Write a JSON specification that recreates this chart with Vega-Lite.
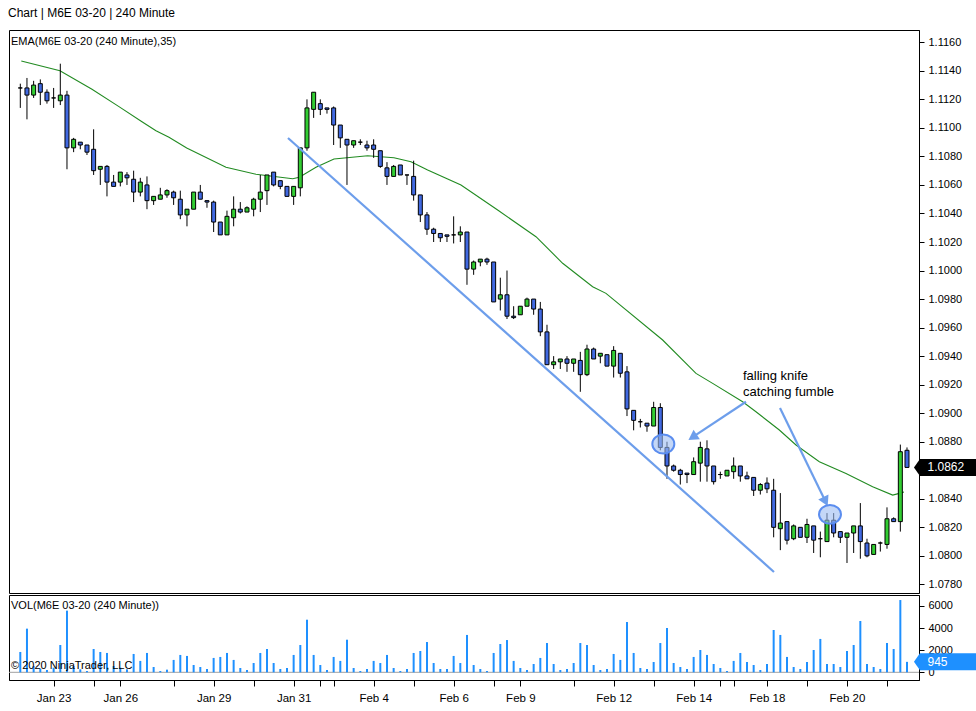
{
  "$schema": "https://vega.github.io/schema/vega-lite/v6.json",
  "background": "white",
  "padding": {"left": 8, "top": 6, "right": 0, "bottom": 0},
  "spacing": 0,
  "title": {"text": "Chart  |  M6E 03-20  |  240 Minute", "anchor": "start", "fontSize": 12, "fontWeight": "normal", "color": "#000", "offset": 10},
  "config": {
    "font": "Liberation Sans",
    "view": {"stroke": "#000", "strokeWidth": 1},
    "scale": {"continuousPadding": 0},
    "axis": {"grid": false, "domainColor": "#000", "tickColor": "#000", "labelColor": "#000", "labelFont": "Liberation Sans", "labelFontSize": 11, "title": null}
  },
  "datasets": {
    "bars": [
      {"i":0,"o":1.1128,"h":1.1131,"l":1.1114,"c":1.1128,"v":1840},
      {"i":1,"o":1.1128,"h":1.1135,"l":1.1106,"c":1.1123,"v":3950},
      {"i":2,"o":1.1123,"h":1.1133,"l":1.1121,"c":1.1130,"v":570},
      {"i":3,"o":1.1131,"h":1.1134,"l":1.1116,"c":1.1125,"v":330},
      {"i":4,"o":1.1125,"h":1.1127,"l":1.1117,"c":1.1119,"v":210},
      {"i":5,"o":1.1121,"h":1.1128,"l":1.1114,"c":1.1121,"v":420},
      {"i":6,"o":1.1119,"h":1.1145,"l":1.1116,"c":1.1123,"v":2470},
      {"i":7,"o":1.1123,"h":1.1126,"l":1.1071,"c":1.1086,"v":5580},
      {"i":8,"o":1.1086,"h":1.1093,"l":1.1083,"c":1.1092,"v":570},
      {"i":9,"o":1.1090,"h":1.1090,"l":1.1085,"c":1.1088,"v":270},
      {"i":10,"o":1.1088,"h":1.1088,"l":1.1081,"c":1.1083,"v":120},
      {"i":11,"o":1.1085,"h":1.1099,"l":1.1067,"c":1.1070,"v":2110},
      {"i":12,"o":1.1071,"h":1.1073,"l":1.1060,"c":1.1073,"v":1840},
      {"i":13,"o":1.1073,"h":1.1074,"l":1.1052,"c":1.1062,"v":1750},
      {"i":14,"o":1.1062,"h":1.1067,"l":1.1059,"c":1.1059,"v":570},
      {"i":15,"o":1.1062,"h":1.1069,"l":1.1059,"c":1.1069,"v":420},
      {"i":16,"o":1.1067,"h":1.1069,"l":1.1060,"c":1.1065,"v":270},
      {"i":17,"o":1.1064,"h":1.1070,"l":1.1048,"c":1.1055,"v":1660},
      {"i":18,"o":1.1055,"h":1.1065,"l":1.1052,"c":1.1062,"v":1030},
      {"i":19,"o":1.1060,"h":1.1066,"l":1.1043,"c":1.1049,"v":1750},
      {"i":20,"o":1.1049,"h":1.1052,"l":1.1046,"c":1.1052,"v":480},
      {"i":21,"o":1.1050,"h":1.1058,"l":1.1050,"c":1.1053,"v":120},
      {"i":22,"o":1.1053,"h":1.1057,"l":1.1051,"c":1.1056,"v":240},
      {"i":23,"o":1.1055,"h":1.1056,"l":1.1046,"c":1.1051,"v":1120},
      {"i":24,"o":1.1050,"h":1.1056,"l":1.1036,"c":1.1039,"v":1570},
      {"i":25,"o":1.1039,"h":1.1043,"l":1.1031,"c":1.1043,"v":1480},
      {"i":26,"o":1.1043,"h":1.1055,"l":1.1043,"c":1.1055,"v":660},
      {"i":27,"o":1.1055,"h":1.1060,"l":1.1050,"c":1.1050,"v":480},
      {"i":28,"o":1.1049,"h":1.1049,"l":1.1044,"c":1.1048,"v":300},
      {"i":29,"o":1.1048,"h":1.1049,"l":1.1027,"c":1.1034,"v":1300},
      {"i":30,"o":1.1034,"h":1.1034,"l":1.1025,"c":1.1025,"v":1390},
      {"i":31,"o":1.1025,"h":1.1042,"l":1.1025,"c":1.1038,"v":1750},
      {"i":32,"o":1.1037,"h":1.1052,"l":1.1031,"c":1.1043,"v":1120},
      {"i":33,"o":1.1043,"h":1.1048,"l":1.1040,"c":1.1041,"v":390},
      {"i":34,"o":1.1041,"h":1.1045,"l":1.1041,"c":1.1044,"v":210},
      {"i":35,"o":1.1043,"h":1.1051,"l":1.1038,"c":1.1050,"v":840},
      {"i":36,"o":1.1050,"h":1.1067,"l":1.1041,"c":1.1055,"v":1750},
      {"i":37,"o":1.1056,"h":1.1067,"l":1.1046,"c":1.1067,"v":2110},
      {"i":38,"o":1.1069,"h":1.1069,"l":1.1059,"c":1.1060,"v":840},
      {"i":39,"o":1.1063,"h":1.1063,"l":1.1057,"c":1.1059,"v":300},
      {"i":40,"o":1.1059,"h":1.1059,"l":1.1052,"c":1.1052,"v":390},
      {"i":41,"o":1.1052,"h":1.1059,"l":1.1046,"c":1.1059,"v":1570},
      {"i":42,"o":1.1058,"h":1.1086,"l":1.1052,"c":1.1086,"v":2470},
      {"i":43,"o":1.1086,"h":1.1120,"l":1.1084,"c":1.1114,"v":4760},
      {"i":44,"o":1.1113,"h":1.1125,"l":1.1107,"c":1.1125,"v":1570},
      {"i":45,"o":1.1117,"h":1.1120,"l":1.1109,"c":1.1113,"v":660},
      {"i":46,"o":1.1114,"h":1.1114,"l":1.1110,"c":1.1113,"v":210},
      {"i":47,"o":1.1114,"h":1.1115,"l":1.1088,"c":1.1102,"v":1390},
      {"i":48,"o":1.1102,"h":1.1102,"l":1.1086,"c":1.1093,"v":1030},
      {"i":49,"o":1.1092,"h":1.1092,"l":1.1060,"c":1.1088,"v":2950},
      {"i":50,"o":1.1088,"h":1.1091,"l":1.1086,"c":1.1091,"v":390},
      {"i":51,"o":1.1090,"h":1.1092,"l":1.1088,"c":1.1090,"v":120},
      {"i":52,"o":1.1088,"h":1.1091,"l":1.1084,"c":1.1086,"v":300},
      {"i":53,"o":1.1088,"h":1.1092,"l":1.1079,"c":1.1085,"v":1030},
      {"i":54,"o":1.1084,"h":1.1084,"l":1.1072,"c":1.1073,"v":840},
      {"i":55,"o":1.1072,"h":1.1076,"l":1.1060,"c":1.1066,"v":1570},
      {"i":56,"o":1.1066,"h":1.1074,"l":1.1066,"c":1.1073,"v":390},
      {"i":57,"o":1.1074,"h":1.1074,"l":1.1067,"c":1.1067,"v":120},
      {"i":58,"o":1.1067,"h":1.1067,"l":1.1060,"c":1.1067,"v":300},
      {"i":59,"o":1.1066,"h":1.1077,"l":1.1049,"c":1.1053,"v":1750},
      {"i":60,"o":1.1053,"h":1.1053,"l":1.1034,"c":1.1039,"v":1930},
      {"i":61,"o":1.1039,"h":1.1041,"l":1.1025,"c":1.1029,"v":2740},
      {"i":62,"o":1.1029,"h":1.1030,"l":1.1020,"c":1.1026,"v":840},
      {"i":63,"o":1.1026,"h":1.1026,"l":1.1020,"c":1.1023,"v":300},
      {"i":64,"o":1.1025,"h":1.1025,"l":1.1020,"c":1.1024,"v":300},
      {"i":65,"o":1.1025,"h":1.1038,"l":1.1019,"c":1.1025,"v":1480},
      {"i":66,"o":1.1025,"h":1.1031,"l":1.1020,"c":1.1027,"v":840},
      {"i":67,"o":1.1027,"h":1.1027,"l":1.0990,"c":1.1001,"v":3380},
      {"i":68,"o":1.1001,"h":1.1007,"l":1.0997,"c":1.1006,"v":660},
      {"i":69,"o":1.1006,"h":1.1008,"l":1.1003,"c":1.1008,"v":300},
      {"i":70,"o":1.1008,"h":1.1009,"l":1.1004,"c":1.1006,"v":120},
      {"i":71,"o":1.1006,"h":1.1006,"l":1.0978,"c":1.0978,"v":1750},
      {"i":72,"o":1.0980,"h":1.0995,"l":1.0972,"c":1.0983,"v":2560},
      {"i":73,"o":1.0983,"h":1.1000,"l":1.0966,"c":1.0968,"v":2920},
      {"i":74,"o":1.0968,"h":1.0975,"l":1.0966,"c":1.0967,"v":1030},
      {"i":75,"o":1.0969,"h":1.0975,"l":1.0969,"c":1.0975,"v":390},
      {"i":76,"o":1.0975,"h":1.0981,"l":1.0975,"c":1.0980,"v":210},
      {"i":77,"o":1.0980,"h":1.0980,"l":1.0969,"c":1.0973,"v":750},
      {"i":78,"o":1.0973,"h":1.0978,"l":1.0954,"c":1.0957,"v":1300},
      {"i":79,"o":1.0957,"h":1.0962,"l":1.0934,"c":1.0934,"v":2650},
      {"i":80,"o":1.0934,"h":1.0940,"l":1.0931,"c":1.0936,"v":750},
      {"i":81,"o":1.0936,"h":1.0938,"l":1.0931,"c":1.0938,"v":210},
      {"i":82,"o":1.0938,"h":1.0940,"l":1.0929,"c":1.0935,"v":300},
      {"i":83,"o":1.0935,"h":1.0938,"l":1.0929,"c":1.0938,"v":840},
      {"i":84,"o":1.0937,"h":1.0943,"l":1.0915,"c":1.0927,"v":2650},
      {"i":85,"o":1.0927,"h":1.0948,"l":1.0926,"c":1.0945,"v":2470},
      {"i":86,"o":1.0945,"h":1.0946,"l":1.0938,"c":1.0938,"v":660},
      {"i":87,"o":1.0940,"h":1.0942,"l":1.0935,"c":1.0942,"v":210},
      {"i":88,"o":1.0941,"h":1.0941,"l":1.0933,"c":1.0933,"v":300},
      {"i":89,"o":1.0933,"h":1.0947,"l":1.0925,"c":1.0944,"v":1660},
      {"i":90,"o":1.0942,"h":1.0942,"l":1.0925,"c":1.0928,"v":1120},
      {"i":91,"o":1.0929,"h":1.0933,"l":1.0898,"c":1.0903,"v":4550},
      {"i":92,"o":1.0902,"h":1.0902,"l":1.0888,"c":1.0895,"v":1750},
      {"i":93,"o":1.0894,"h":1.0896,"l":1.0890,"c":1.0894,"v":390},
      {"i":94,"o":1.0893,"h":1.0893,"l":1.0887,"c":1.0891,"v":300},
      {"i":95,"o":1.0891,"h":1.0908,"l":1.0891,"c":1.0904,"v":930},
      {"i":96,"o":1.0904,"h":1.0907,"l":1.0874,"c":1.0876,"v":2650},
      {"i":97,"o":1.0876,"h":1.0880,"l":1.0854,"c":1.0863,"v":4010},
      {"i":98,"o":1.0863,"h":1.0864,"l":1.0859,"c":1.0860,"v":840},
      {"i":99,"o":1.0860,"h":1.0861,"l":1.0850,"c":1.0857,"v":480},
      {"i":100,"o":1.0858,"h":1.0858,"l":1.0851,"c":1.0857,"v":300},
      {"i":101,"o":1.0857,"h":1.0869,"l":1.0857,"c":1.0866,"v":1390},
      {"i":102,"o":1.0865,"h":1.0880,"l":1.0852,"c":1.0876,"v":2020},
      {"i":103,"o":1.0875,"h":1.0881,"l":1.0852,"c":1.0863,"v":1570},
      {"i":104,"o":1.0863,"h":1.0863,"l":1.0850,"c":1.0852,"v":750},
      {"i":105,"o":1.0857,"h":1.0859,"l":1.0854,"c":1.0857,"v":390},
      {"i":106,"o":1.0856,"h":1.0860,"l":1.0856,"c":1.0860,"v":120},
      {"i":107,"o":1.0859,"h":1.0869,"l":1.0854,"c":1.0863,"v":1030},
      {"i":108,"o":1.0863,"h":1.0863,"l":1.0852,"c":1.0856,"v":1750},
      {"i":109,"o":1.0856,"h":1.0859,"l":1.0854,"c":1.0854,"v":930},
      {"i":110,"o":1.0855,"h":1.0855,"l":1.0842,"c":1.0846,"v":660},
      {"i":111,"o":1.0846,"h":1.0851,"l":1.0843,"c":1.0850,"v":210},
      {"i":112,"o":1.0851,"h":1.0855,"l":1.0844,"c":1.0847,"v":750},
      {"i":113,"o":1.0846,"h":1.0854,"l":1.0813,"c":1.0820,"v":3830},
      {"i":114,"o":1.0819,"h":1.0844,"l":1.0804,"c":1.0823,"v":3380},
      {"i":115,"o":1.0824,"h":1.0824,"l":1.0808,"c":1.0811,"v":1390},
      {"i":116,"o":1.0812,"h":1.0822,"l":1.0811,"c":1.0821,"v":480},
      {"i":117,"o":1.0820,"h":1.0820,"l":1.0813,"c":1.0813,"v":300},
      {"i":118,"o":1.0813,"h":1.0826,"l":1.0809,"c":1.0822,"v":930},
      {"i":119,"o":1.0821,"h":1.0821,"l":1.0802,"c":1.0811,"v":2020},
      {"i":120,"o":1.0812,"h":1.0817,"l":1.0799,"c":1.0812,"v":3020},
      {"i":121,"o":1.0810,"h":1.0830,"l":1.0810,"c":1.0825,"v":750},
      {"i":122,"o":1.0825,"h":1.0830,"l":1.0813,"c":1.0816,"v":750},
      {"i":123,"o":1.0817,"h":1.0817,"l":1.0809,"c":1.0813,"v":480},
      {"i":124,"o":1.0813,"h":1.0816,"l":1.0795,"c":1.0816,"v":1930},
      {"i":125,"o":1.0816,"h":1.0821,"l":1.0802,"c":1.0821,"v":2470},
      {"i":126,"o":1.0821,"h":1.0837,"l":1.0798,"c":1.0810,"v":4640},
      {"i":127,"o":1.0809,"h":1.0812,"l":1.0799,"c":1.0800,"v":750},
      {"i":128,"o":1.0801,"h":1.0808,"l":1.0801,"c":1.0808,"v":480},
      {"i":129,"o":1.0809,"h":1.0810,"l":1.0803,"c":1.0809,"v":300},
      {"i":130,"o":1.0808,"h":1.0834,"l":1.0805,"c":1.0826,"v":2650},
      {"i":131,"o":1.0826,"h":1.0827,"l":1.0824,"c":1.0824,"v":2110},
      {"i":132,"o":1.0824,"h":1.0878,"l":1.0817,"c":1.0873,"v":6540},
      {"i":133,"o":1.0874,"h":1.0876,"l":1.0862,"c":1.0862,"v":945}
    ],
    "ema": [
      {"i":0.15,"p":1.11469},{"i":5.95,"p":1.11401},{"i":10.75,"p":1.11271},{"i":14.8,"p":1.11149},
      {"i":18.25,"p":1.11043},{"i":20.35,"p":1.1098},{"i":22.3,"p":1.10934},{"i":24.96,"p":1.10859},
      {"i":30.85,"p":1.10724},{"i":35.35,"p":1.10675},{"i":40.86,"p":1.10644},{"i":41.85,"p":1.10654},
      {"i":44.35,"p":1.10724},{"i":47.05,"p":1.10782},{"i":52.1,"p":1.10805},{"i":56.05,"p":1.10791},
      {"i":58.6,"p":1.10763},{"i":61.1,"p":1.10705},{"i":66.1,"p":1.106},{"i":71.6,"p":1.10424},
      {"i":77.35,"p":1.10237},{"i":81.35,"p":1.10051},{"i":85.85,"p":1.09887},{"i":87.85,"p":1.0984},
      {"i":96.35,"p":1.09513},{"i":101.35,"p":1.09279},{"i":103.85,"p":1.09209},{"i":108.35,"p":1.0908},
      {"i":110.35,"p":1.0901},{"i":113.85,"p":1.08882},{"i":116.35,"p":1.08777},{"i":119.85,"p":1.0866},
      {"i":123.85,"p":1.08578},{"i":127.85,"p":1.08484},{"i":130.85,"p":1.08426},{"i":131.85,"p":1.08438},
      {"i":132.55,"p":1.08447}
    ]
  },
  "vconcat": [
    {
      "width": 910,
      "height": 563,
      "layer": [
        {
          "data": {"name": "ema"},
          "mark": {"type": "line", "color": "#228B22", "strokeWidth": 1.1},
          "encoding": {
            "x": {"field": "i", "type": "quantitative", "scale": {"domain": [-1.695, 134.8], "nice": false, "zero": false, "padding": 0}, "axis": null},
            "y": {"field": "p", "type": "quantitative", "scale": {"domain": [1.077396, 1.116862], "nice": false, "zero": false, "padding": 0},
              "axis": {"orient": "right", "values": [1.078,1.080,1.082,1.084,1.088,1.090,1.092,1.094,1.096,1.098,1.100,1.102,1.104,1.106,1.108,1.110,1.112,1.114,1.116], "tickCount": 200, "format": ".4f", "tickSize": 5, "labelPadding": 4, "labelFlush": false, "labelOverlap": false}}
          }
        },
        {
          "data": {"name": "bars"},
          "mark": {"type": "rule", "color": "#000", "strokeWidth": 1},
          "encoding": {
            "x": {"field": "i", "type": "quantitative", "scale": {"domain": [-1.695, 134.8], "nice": false, "zero": false, "padding": 0}},
            "y": {"field": "l", "type": "quantitative", "scale": {"domain": [1.077396, 1.116862], "nice": false, "zero": false, "padding": 0}},
            "y2": {"field": "h"}
          }
        },
        {
          "data": {"name": "bars"},
          "mark": {"type": "bar", "size": 4, "stroke": "#000", "strokeWidth": 1},
          "encoding": {
            "x": {"field": "i", "type": "quantitative", "scale": {"domain": [-1.695, 134.8], "nice": false, "zero": false, "padding": 0}},
            "y": {"field": "o", "type": "quantitative", "scale": {"domain": [1.077396, 1.116862], "nice": false, "zero": false, "padding": 0}},
            "y2": {"field": "c"},
            "color": {"condition": {"test": "datum.c > datum.o", "value": "#32CD32"}, "value": "#4169E1"}
          }
        },
        {
          "data": {"values": [{"i": 40.15, "p": 1.10929}, {"i": 113.05, "p": 1.07887}]},
          "mark": {"type": "line", "color": "#6D9EEB", "strokeWidth": 2.2},
          "encoding": {
            "x": {"field": "i", "type": "quantitative", "scale": {"domain": [-1.695, 134.8], "nice": false, "zero": false, "padding": 0}},
            "y": {"field": "p", "type": "quantitative", "scale": {"domain": [1.077396, 1.116862], "nice": false, "zero": false, "padding": 0}}
          }
        },
        {
          "data": {"values": [
            {"g": 1, "i": 108.85, "p": 1.0908}, {"g": 1, "i": 100.84, "p": 1.08832},
            {"g": 2, "i": 113.95, "p": 1.09036}, {"g": 2, "i": 120.78, "p": 1.08381}
          ]},
          "mark": {"type": "line", "color": "#6D9EEB", "strokeWidth": 2.2},
          "encoding": {
            "x": {"field": "i", "type": "quantitative", "scale": {"domain": [-1.695, 134.8], "nice": false, "zero": false, "padding": 0}},
            "y": {"field": "p", "type": "quantitative", "scale": {"domain": [1.077396, 1.116862], "nice": false, "zero": false, "padding": 0}},
            "detail": {"field": "g", "type": "nominal"}
          }
        },
        {
          "data": {"values": [{"i": 100.84, "p": 1.08832}]},
          "mark": {"type": "point", "shape": "triangle-up", "filled": true, "color": "#6D9EEB", "opacity": 1, "size": 130, "angle": 236.5},
          "encoding": {
            "x": {"field": "i", "type": "quantitative", "scale": {"domain": [-1.695, 134.8], "nice": false, "zero": false, "padding": 0}},
            "y": {"field": "p", "type": "quantitative", "scale": {"domain": [1.077396, 1.116862], "nice": false, "zero": false, "padding": 0}}
          }
        },
        {
          "data": {"values": [{"i": 120.78, "p": 1.08381}]},
          "mark": {"type": "point", "shape": "triangle-up", "filled": true, "color": "#6D9EEB", "opacity": 1, "size": 130, "angle": 154},
          "encoding": {
            "x": {"field": "i", "type": "quantitative", "scale": {"domain": [-1.695, 134.8], "nice": false, "zero": false, "padding": 0}},
            "y": {"field": "p", "type": "quantitative", "scale": {"domain": [1.077396, 1.116862], "nice": false, "zero": false, "padding": 0}}
          }
        },
        {
          "data": {"values": [{"i": 96.45, "p": 1.08784}, {"i": 121.45, "p": 1.08291}]},
          "mark": {"type": "point", "shape": "M -1 0 A 1 0.86 0 1 1 1 0 A 1 0.86 0 1 1 -1 0 Z", "size": 484, "filled": true, "fill": "#9DBCF2", "fillOpacity": 0.6, "stroke": "#5B8DEF", "strokeWidth": 2, "opacity": 1},
          "encoding": {
            "x": {"field": "i", "type": "quantitative", "scale": {"domain": [-1.695, 134.8], "nice": false, "zero": false, "padding": 0}},
            "y": {"field": "p", "type": "quantitative", "scale": {"domain": [1.077396, 1.116862], "nice": false, "zero": false, "padding": 0}}
          }
        },
        {
          "data": {"values": [{"i": 108.4, "p": 1.09261, "t": "falling knife"}, {"i": 108.4, "p": 1.09149, "t": "catching fumble"}]},
          "mark": {"type": "text", "align": "left", "baseline": "middle", "fontSize": 13, "color": "#000"},
          "encoding": {
            "x": {"field": "i", "type": "quantitative", "scale": {"domain": [-1.695, 134.8], "nice": false, "zero": false, "padding": 0}},
            "y": {"field": "p", "type": "quantitative", "scale": {"domain": [1.077396, 1.116862], "nice": false, "zero": false, "padding": 0}},
            "text": {"field": "t"}
          }
        },
        {
          "data": {"values": [{"i": -1.395, "p": 1.11602, "t": "EMA(M6E 03-20 (240 Minute),35)"}]},
          "mark": {"type": "text", "align": "left", "baseline": "middle", "fontSize": 11, "color": "#000"},
          "encoding": {
            "x": {"field": "i", "type": "quantitative", "scale": {"domain": [-1.695, 134.8], "nice": false, "zero": false, "padding": 0}},
            "y": {"field": "p", "type": "quantitative", "scale": {"domain": [1.077396, 1.116862], "nice": false, "zero": false, "padding": 0}},
            "text": {"field": "t"}
          }
        },
        {
          "data": {"values": [{"i": 138.77, "p": 1.0862, "t": "1.0862"}]},
          "layer": [
            {
              "mark": {"type": "point", "shape": "M -1 0 L -0.81 -0.27 L 1 -0.27 L 1 0.27 L -0.81 0.27 Z", "size": 3969, "filled": true, "color": "#000", "opacity": 1, "clip": false},
              "encoding": {
                "x": {"field": "i", "type": "quantitative", "scale": {"domain": [-1.695, 134.8], "nice": false, "zero": false, "padding": 0}},
                "y": {"field": "p", "type": "quantitative", "scale": {"domain": [1.077396, 1.116862], "nice": false, "zero": false, "padding": 0}}
              }
            },
            {
              "mark": {"type": "text", "align": "left", "baseline": "middle", "fontSize": 12, "color": "#fff", "dx": -18, "clip": false},
              "encoding": {
                "x": {"field": "i", "type": "quantitative", "scale": {"domain": [-1.695, 134.8], "nice": false, "zero": false, "padding": 0}},
                "y": {"field": "p", "type": "quantitative", "scale": {"domain": [1.077396, 1.116862], "nice": false, "zero": false, "padding": 0}},
                "text": {"field": "t"}
              }
            }
          ]
        }
      ]
    },
    {
      "width": 910,
      "height": 85,
      "layer": [
        {
          "data": {"values": [{"v": 0}]},
          "mark": {"type": "rule", "color": "#A0A0A0", "strokeWidth": 1},
          "encoding": {
            "y": {"field": "v", "type": "quantitative", "scale": {"domain": [-697, 6995], "nice": false, "zero": false, "padding": 0}}
          }
        },
        {
          "data": {"name": "bars"},
          "mark": {"type": "bar", "size": 2, "color": "#1E90FF"},
          "encoding": {
            "x": {"field": "i", "type": "quantitative", "scale": {"domain": [-1.695, 134.8], "nice": false, "zero": false, "padding": 0},
              "axis": {"orient": "bottom", "values": [5,11,15,23,29,35,41,45,47,53,59,65,71,75,83,89,95,101,105,107,112,118,124,130], "tickCount": 200,
                "labelExpr": "datum.value == 5 ? 'Jan 23' : datum.value == 15 ? 'Jan 26' : datum.value == 29 ? 'Jan 29' : datum.value == 41 ? 'Jan 31' : datum.value == 53 ? 'Feb 4' : datum.value == 65 ? 'Feb 6' : datum.value == 75 ? 'Feb 9' : datum.value == 89 ? 'Feb 12' : datum.value == 101 ? 'Feb 14' : datum.value == 112 ? 'Feb 18' : datum.value == 124 ? 'Feb 20' : ''",
                "tickSize": 6, "labelPadding": 6, "labelFontSize": 11.5, "labelOverlap": false, "labelFlush": false}},
            "y": {"field": "v", "type": "quantitative", "scale": {"domain": [-697, 6995], "nice": false, "zero": false, "padding": 0},
              "axis": {"orient": "right", "values": [0, 2000, 4000, 6000], "tickCount": 50, "format": "d", "tickSize": 5, "labelPadding": 4, "labelFlush": false, "labelOverlap": false}},
            "y2": {"datum": 0}
          }
        },
        {
          "data": {"values": [{"i": -1.395, "v": 6000, "t": "VOL(M6E 03-20 (240 Minute))"}, {"i": -1.395, "v": 570, "t": "© 2020 NinjaTrader, LLC"}]},
          "mark": {"type": "text", "align": "left", "baseline": "middle", "fontSize": 11, "color": "#000"},
          "encoding": {
            "x": {"field": "i", "type": "quantitative", "scale": {"domain": [-1.695, 134.8], "nice": false, "zero": false, "padding": 0}},
            "y": {"field": "v", "type": "quantitative", "scale": {"domain": [-697, 6995], "nice": false, "zero": false, "padding": 0}},
            "text": {"field": "t"}
          }
        },
        {
          "data": {"values": [{"i": 138.77, "v": 945, "t": "945"}]},
          "layer": [
            {
              "mark": {"type": "point", "shape": "M -1 0 L -0.81 -0.27 L 1 -0.27 L 1 0.27 L -0.81 0.27 Z", "size": 3969, "filled": true, "color": "#1E90FF", "opacity": 1, "clip": false},
              "encoding": {
                "x": {"field": "i", "type": "quantitative", "scale": {"domain": [-1.695, 134.8], "nice": false, "zero": false, "padding": 0}},
                "y": {"field": "v", "type": "quantitative", "scale": {"domain": [-697, 6995], "nice": false, "zero": false, "padding": 0}}
              }
            },
            {
              "mark": {"type": "text", "align": "left", "baseline": "middle", "fontSize": 12, "color": "#fff", "dx": -18, "clip": false},
              "encoding": {
                "x": {"field": "i", "type": "quantitative", "scale": {"domain": [-1.695, 134.8], "nice": false, "zero": false, "padding": 0}},
                "y": {"field": "v", "type": "quantitative", "scale": {"domain": [-697, 6995], "nice": false, "zero": false, "padding": 0}},
                "text": {"field": "t"}
              }
            }
          ]
        }
      ]
    }
  ]
}
